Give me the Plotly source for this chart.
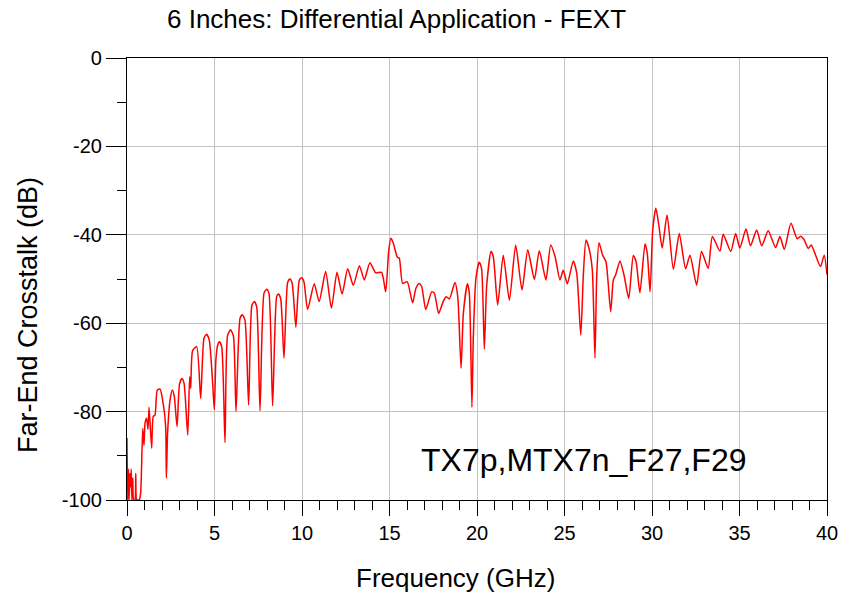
import plotly.graph_objects as go

# Frequency (GHz) and far-end crosstalk (dB)
freq_ghz = [
    0.0, 0.04, 0.08, 0.12, 0.16, 0.2, 0.24, 0.28, 0.33, 0.38, 0.45, 0.5, 0.55, 0.62, 0.7,
    0.78, 0.9, 0.97, 1.03, 1.12, 1.2, 1.26, 1.41, 1.5, 1.6, 1.73, 1.89, 2.08, 2.21, 2.25,
    2.32, 2.46, 2.59, 2.7, 2.86, 3.0, 3.14, 3.26, 3.47, 3.58, 3.64, 3.75, 3.98, 4.21,
    4.4, 4.55, 4.7,
    4.9, 4.99, 5.08, 5.18, 5.28, 5.41, 5.6, 5.75, 5.92, 6.08, 6.23, 6.46, 6.59, 6.74, 6.95,
    7.14, 7.28, 7.41, 7.6, 7.83, 7.98, 8.11, 8.32, 8.55, 8.65, 8.78, 8.97,
    9.18, 9.31, 9.44, 9.65, 9.85, 9.98, 10.11, 10.32, 10.7, 10.98, 11.35, 11.68, 12.0, 12.29, 12.61, 12.93, 13.28,
    13.56, 13.88, 14.21, 14.55, 14.78, 14.95, 15.08, 15.22, 15.45, 15.56, 15.75, 16.01,
    16.32, 16.51, 16.7, 16.84, 17.07, 17.41, 17.56, 17.81, 18.04, 18.23, 18.42, 18.74,
    18.9, 19.09, 19.22, 19.45, 19.56, 19.71, 19.79, 19.94, 20.13, 20.26, 20.42, 20.55,
    20.8, 20.93, 21.18, 21.5, 21.85, 22.21, 22.57, 22.9, 23.28, 23.56, 23.94, 24.21,
    24.46, 24.74, 24.93, 25.16, 25.5, 25.7, 25.93, 26.08, 26.23, 26.42, 26.59, 26.74,
    26.84, 26.97, 27.18, 27.37, 27.64, 27.79, 27.92, 28.17, 28.4, 28.67, 28.93, 29.09,
    29.31, 29.6, 29.73, 29.89, 30.04, 30.22, 30.38, 30.58, 30.86, 31.22, 31.56, 31.92,
    32.17, 32.55, 32.83, 33.21, 33.45, 33.88, 34.07, 34.5, 34.78, 35.02, 35.37, 35.63,
    35.98, 36.27, 36.64, 37.06, 37.31, 37.56, 37.94, 38.3, 38.49, 38.68, 38.93, 39.1,
    39.31, 39.63, 39.84, 40.0,
]
fext_db = [
    -86, -100, -93, -100, -94, -97, -93, -100, -95, -100, -100, -94, -100, -100, -100,
    -98.4, -83.8, -87.6, -82.6, -81.5, -84, -79, -88.3, -81.1, -80.8, -75.1, -74.9, -78.5, -83.4, -95,
    -84.9, -77.4, -75.1, -76.5, -83.4, -73.8, -72.5, -73.6, -85.3, -72.1, -74.7, -66.2, -65.3, -77,
    -63.4, -62.5, -63.8,
    -74, -79.6, -68.3, -65, -64.2, -65.3, -87, -62.7, -61.5, -62.9, -80, -58.9, -58.1, -59.3, -78.5,
    -55.9, -55.1, -56.3, -79.8, -53.2, -52.3, -53.2, -78.7, -54, -53.4, -54.4, -67.9,
    -50.8, -50, -51, -60.9, -50.2, -49.7, -50.6, -56.9, -51.1, -55.1, -48.3, -56.6, -48.5, -53.4, -47.7, -51.4, -47,
    -50.2, -46.3, -48.6, -48.5, -52.9, -43.8, -40.8, -41.9, -45.1, -45.3, -51, -50.6,
    -55.4, -52.1, -51, -51.7, -56.9, -52.9, -53.2, -57.8, -55.4, -54, -54.5, -50.8,
    -54, -70.2, -57.8, -51.1, -53.2, -79, -63, -49.8, -46.2, -47.6, -65.9, -51.7,
    -43.8, -44.9, -55.9, -44.6, -54.8, -42.3, -52.5, -43.4, -50.1, -43.6, -50.2, -42.3,
    -44.9, -50.2, -48, -51.1, -45.9, -48.7, -62.7, -48.7, -41.2, -43.4, -48, -67.9,
    -49.5, -41.8, -44.6, -46.1, -57.4, -50.2, -49.1, -45.9, -49.1, -54.4, -44.7, -46.1,
    -53.1, -42, -44.2, -52.9, -39, -34, -37.5, -43, -35.5, -47.8, -39.7, -47.7,
    -44.6, -51.4, -43.8, -47.6, -40.4, -43.7, -39.9, -43.8, -39.7, -43, -38.7, -42.5,
    -38.9, -42.5, -39.1, -42.9, -40.4, -43.3, -37.4, -40.9, -40.3, -41, -43.1, -42.3,
    -44.2, -47.2, -44.6, -49,
]

x_ticks = [0, 5, 10, 15, 20, 25, 30, 35, 40]
y_ticks = [0, -20, -40, -60, -80, -100]

title_text = "6 Inches: Differential Application - FEXT"
x_title = "Frequency (GHz)"
y_title = "Far-End Crosstalk (dB)"
trace_label = "TX7p,MTX7n_F27,F29"

FONT = "Liberation Sans, Arial, sans-serif"

# plot-area geometry in pixels
L, R, T, B = 127, 827, 58, 500
W, H = R - L, B - T

fig = go.Figure()
fig.add_trace(go.Scatter(
    x=freq_ghz, y=fext_db, mode="lines",
    line=dict(color="#ff0000", width=1.5, shape="spline", smoothing=0.6),
    showlegend=False, cliponaxis=True,
))

axis_common = dict(
    showline=True, linecolor="black", linewidth=1.2, mirror=True,
    showgrid=True, gridcolor="#c4c4c4", gridwidth=1.2,
    ticks="outside", tickcolor="black", tickwidth=1.2,
    tickfont=dict(family=FONT, size=20, color="black"),
    zeroline=False, automargin=False,
)

def px_x(p):
    return (p - L) / W

def px_y(p):
    return (B - p) / H

fig.update_layout(
    width=842, height=595,
    margin=dict(l=L, r=842 - R, t=T, b=595 - B, autoexpand=False),
    paper_bgcolor="white", plot_bgcolor="white",
    xaxis=dict(
        range=[0, 40], tickvals=x_ticks, ticktext=[str(v) for v in x_ticks],
        ticklen=15,
        minor=dict(dtick=1, ticklen=9, tickcolor="black", tickwidth=1.2, ticks="outside", showgrid=False),
        **axis_common,
    ),
    yaxis=dict(
        range=[-100, 0], tickvals=y_ticks, ticktext=[str(v) for v in y_ticks],
        ticklen=20,
        minor=dict(dtick=10, ticklen=9, tickcolor="black", tickwidth=1.2, ticks="outside", showgrid=False),
        **axis_common,
    ),
    annotations=[
        dict(text=title_text, x=px_x(165), y=px_y(19), xref="paper", yref="paper",
             xanchor="left", yanchor="middle",
             showarrow=False, font=dict(family=FONT, size=26, color="black")),
        dict(text=x_title, x=px_x(455), y=px_y(578), xref="paper", yref="paper",
             xanchor="center", yanchor="middle",
             showarrow=False, font=dict(family=FONT, size=26, color="black")),
        dict(text=y_title, x=px_x(28), y=px_y(315), xref="paper", yref="paper", textangle=-90,
             xanchor="center", yanchor="middle",
             showarrow=False, font=dict(family=FONT, size=27, color="black")),
        dict(text=trace_label, x=px_x(748), y=px_y(460), xref="paper", yref="paper",
             xanchor="right", yanchor="middle",
             showarrow=False, font=dict(family=FONT, size=32, color="black")),
    ],
)

fig.write_html(
    "out.html",
    config={"displayModeBar": False},
    post_script="document.body.style.margin='0';document.body.style.padding='0';",
)
